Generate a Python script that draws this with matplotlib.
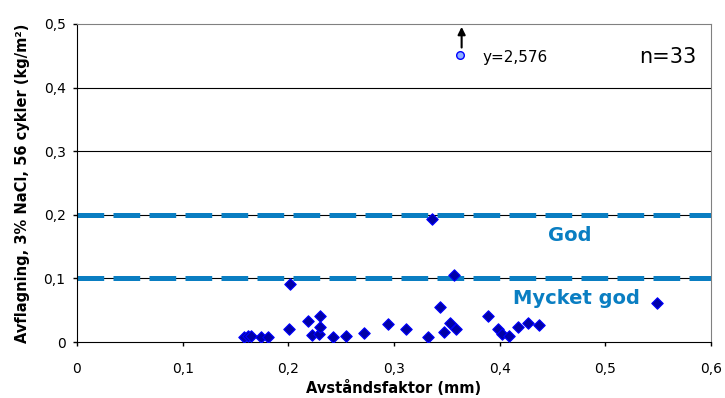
import matplotlib.pyplot as plt
from matplotlib.ticker import FuncFormatter

plt.rcParams['font.family'] = ['DejaVu Sans']

# avståndsfaktor (mm) and avflagning (kg/m2)
x = [0.158, 0.162, 0.165, 0.174, 0.181, 0.201, 0.202, 0.219, 0.222, 0.229,
     0.230, 0.230, 0.242, 0.255, 0.272, 0.294, 0.311, 0.332, 0.336, 0.344,
     0.347, 0.353, 0.357, 0.359, 0.389, 0.398, 0.402, 0.409, 0.417, 0.427,
     0.437, 0.549]
y = [0.008, 0.010, 0.009, 0.008, 0.008, 0.020, 0.091, 0.033, 0.011, 0.013,
     0.024, 0.041, 0.008, 0.010, 0.014, 0.028, 0.020, 0.008, 0.193, 0.055,
     0.015, 0.030, 0.106, 0.020, 0.041, 0.021, 0.012, 0.010, 0.023, 0.030,
     0.026, 0.061]

# outlier drawn at the top of the chart
out_x = 0.362
out_y = 0.451
out_label = 'y=2,576'

limits = [0.2, 0.1]
limit_names = ['God', 'Mycket god']

fig = plt.figure(figsize=(7.25, 3.98), dpi=100)
ax = fig.add_axes([0.1062, 0.1407, 0.8745, 0.799])

ax.set_xlim(0, 0.6)
ax.set_ylim(0, 0.5)
ax.set_xticks([0, 0.1, 0.2, 0.3, 0.4, 0.5, 0.6])
ax.set_yticks([0, 0.1, 0.2, 0.3, 0.4, 0.5])
fmt = FuncFormatter(lambda v, p: ('%g' % round(v, 2)).replace('.', ','))
ax.xaxis.set_major_formatter(fmt)
ax.yaxis.set_major_formatter(fmt)
ax.tick_params(labelsize=10, length=3.2, direction='out', width=1)
ax.tick_params(axis='x', pad=11)
ax.tick_params(axis='y', pad=5)

for yy in [0.1, 0.2, 0.3, 0.4]:
    ax.axhline(yy, color='black', lw=0.8, zorder=1)

for lim in limits:
    ax.axhline(lim, color='#0A7EC2', lw=3.6, dashes=(5.34, 1.86), zorder=2)

ax.text(0.466, 0.168, limit_names[0], color='#0A7EC2', fontsize=14,
        fontweight='bold', ha='center', va='center')
ax.text(0.473, 0.069, limit_names[1], color='#0A7EC2', fontsize=14,
        fontweight='bold', ha='center', va='center')

ax.scatter(x, y, marker='D', s=34, color='#0000A8', edgecolors='#0000FF',
           linewidths=0.8, zorder=3)

ax.plot([out_x], [out_y], 'o', ms=5.5, mfc='#8FB0FF', mec='#0000FF', mew=1, zorder=3)
ax.annotate('', xy=(out_x + 0.002, 0.4955), xytext=(out_x + 0.002, 0.463),
            arrowprops=dict(arrowstyle='-|>', color='black', lw=1.5,
                            mutation_scale=11, shrinkA=0, shrinkB=0))
ax.text(0.384, 0.448, out_label, fontsize=11, va='center')
ax.text(0.586, 0.448, 'n=33', fontsize=15, ha='right', va='center')

for s in ['top', 'right']:
    ax.spines[s].set_color('#808080')
for s in ['left', 'bottom']:
    ax.spines[s].set_color('black')

ax.set_xlabel('Avståndsfaktor (mm)', fontsize=10.5, fontweight='bold', labelpad=3)
ax.set_ylabel('Avflagning, 3% NaCl, 56 cykler (kg/m²)', fontsize=10.5,
              fontweight='bold', labelpad=10)

fig.savefig('out.png', dpi=100)
